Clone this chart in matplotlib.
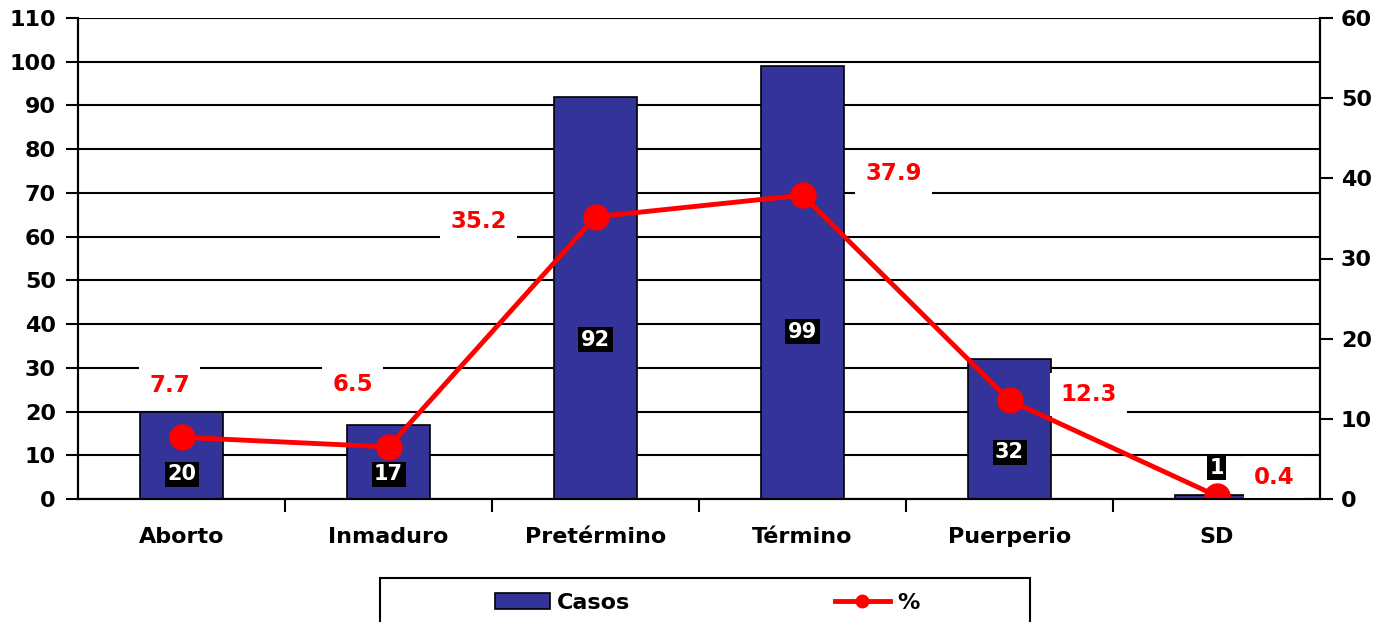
import matplotlib
matplotlib.use('Agg')
import matplotlib.pyplot as plt
from matplotlib.patches import Patch, Rectangle
from matplotlib.lines import Line2D
import numpy as np

categories = ["Aborto", "Inmaduro", "Pretérmino", "Término", "Puerperio", "SD"]
casos = [20, 17, 92, 99, 32, 1]
porcentaje = [7.7, 6.5, 35.2, 37.9, 12.3, 0.4]

# where the count labels sit inside the bars (left-axis units)
casos_label_y = [5.7, 5.7, 36.4, 38.2, 10.7, 7.2]
# offsets (pixels) of the percentage labels from their points
pct_label_offsets = [(-12, 52), (-36, 62), (-117, -5), (91, 22), (79, 6), (58, 18)]

NAVY = "#333399"
RED = "#ff0000"
FONT = "DejaVu Sans"
W, H = 1374, 622

plt.rcParams['font.family'] = FONT
plt.rcParams['font.weight'] = 'bold'

fig = plt.figure(figsize=(W / 100, H / 100), dpi=100)
ax = fig.add_axes([78 / W, 1 - 499 / H, (1320 - 78) / W, (499 - 18) / H])
ax2 = ax.twinx()

x = np.arange(len(categories))
ax.bar(x, casos, width=0.4, color=NAVY, edgecolor="black", linewidth=1.2, zorder=2)

ax.set_xlim(-0.5, len(categories) - 0.5)
ax.set_ylim(0, 110)
ax.set_yticks(np.arange(0, 111, 10))
ax.yaxis.grid(True, color="black", linewidth=1.5)
ax.set_axisbelow(True)

# category names centred, tick marks on the boundaries
ax.set_xticks(x)
ax.set_xticklabels(categories, fontsize=16, fontweight='bold')
ax.tick_params(axis='x', which='major', length=0, pad=20)
ax.set_xticks(np.arange(0.5, len(categories) - 1, 1), minor=True)
ax.tick_params(axis='x', which='minor', length=9, width=1.5, direction='out')
ax.tick_params(axis='y', length=9, width=1.5, labelsize=16, pad=7)
for lbl in ax.get_yticklabels():
    lbl.set_fontweight('bold')

for i, (v, ly) in enumerate(zip(casos, casos_label_y)):
    ax.text(i, ly, str(v), ha='center', va='center', color='white', fontsize=15,
            fontweight='bold', zorder=5,
            bbox=dict(boxstyle='square,pad=0.12', facecolor='black', edgecolor='none'))

ax2.plot(x, porcentaje, color=RED, linewidth=3.5, marker='o', markersize=18, zorder=3)
ax2.set_ylim(0, 60)
ax2.set_yticks(np.arange(0, 61, 10))
ax2.tick_params(axis='y', length=9, width=1.5, labelsize=16, pad=6)
for lbl in ax2.get_yticklabels():
    lbl.set_fontweight('bold')

for i, (p, off) in enumerate(zip(porcentaje, pct_label_offsets)):
    ax2.annotate(f"{p}", (i, p), xytext=off, textcoords='offset pixels',
                 ha='center', va='center', color=RED, fontsize=16.5, fontweight='bold',
                 zorder=4,
                 bbox=dict(boxstyle='square,pad=0.45', facecolor='white', edgecolor='none'))

for a in (ax, ax2):
    a.spines['top'].set_visible(False)
    for s in ('left', 'right', 'bottom'):
        a.spines[s].set_linewidth(1.5)
        a.spines[s].set_zorder(10)

# legend frame runs off the bottom edge
fig.patches.append(Rectangle((380 / W, -0.05), 650 / W, 0.05 + 1 - 578 / H,
                             transform=fig.transFigure, facecolor='white',
                             edgecolor='black', linewidth=1.5, zorder=0))
handles = [Patch(facecolor=NAVY, edgecolor='black', linewidth=1.2),
           Line2D([0], [0], color=RED, linewidth=3.5, marker='o', markersize=9)]
fig.legend(handles, ["Casos", "%"], loc='center', bbox_to_anchor=(707 / W, 1 - 603 / H),
           ncol=2, frameon=False, prop={'size': 16, 'weight': 'bold'},
           handlelength=2.5, handletextpad=0.3, columnspacing=9.2)

fig.savefig("out.png", dpi=100)
